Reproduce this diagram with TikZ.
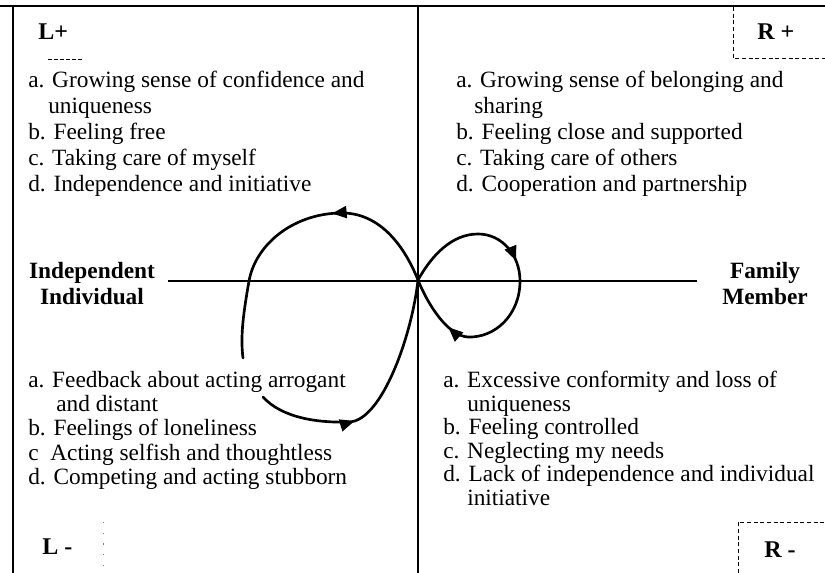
\documentclass[tikz,border=0pt]{standalone}
\usepackage{fontspec}
\setmainfont{Liberation Serif}
\usetikzlibrary{arrows.meta,decorations.markings}
\tikzset{
  frame/.style={line width=1.3pt},
  axis/.style={line width=1pt},
  curve/.style={line width=2pt,line cap=round},
  boxline/.style={line width=0.6pt,dash pattern=on 3pt off 2pt},
  item/.style={anchor=base west,inner sep=0pt,font=\fontsize{17.5}{19}\selectfont},
  tag/.style={anchor=base west,inner sep=0pt,font=\fontsize{18}{20}\selectfont\bfseries},
  pole/.style={align=center,inner sep=0pt,font=\fontsize{17.5}{19.5}\selectfont\bfseries},
  arrowat/.style={postaction={decorate,decoration={markings,mark=at position #1 with {\arrow{Triangle[length=11pt,width=9pt]}}}}}
}
\begin{document}
\begin{tikzpicture}[x=0.75pt,y=-0.75pt]
\useasboundingbox (0,0) rectangle (825,573);
% frame and axes
\draw[frame] (0,6) -- (825,6);
\draw[frame] (13,6) -- (13,573);
\draw[axis] (418,6) -- (418,573);
\coordinate (axL) at (168,281);
\coordinate (axR) at (697,281);
\draw[axis] (axL) -- (axR);
% corner tags
\node[tag] (lp) at (38,40) {L+};
\node[tag] (rp) at (757,40) {R +};
\node[tag] (lm) at (42,554) {L -};
\node[tag] (rm) at (764,557) {R -};
\draw[line width=0.6pt,dash pattern=on 3pt off 1.5pt] (48,59) -- (82,59);
\draw[boxline] (733,7) -- (733,58) -- (825,58);
\draw[boxline] (738,573) -- (738,522) -- (825,522);
\draw[line width=0.6pt,gray,dash pattern=on 1pt off 7pt] (103,522) -- (103,573);
% poles of the axis
\node[pole] (ind) at (92,284) {Independent\\Individual};
\node[pole] (fam) at (765,284) {Family\\Member};
% quadrant lists
\foreach \dx/\t [count=\k] in {0/a. Growing sense of confidence and,20/uniqueness,0/b. Feeling free,0/c. Taking care of myself,0/d. Independence and initiative}
  \node[item] (tl\k) at ({28+\dx},{88+26*(\k-1)}) {\t};
\foreach \dx/\t [count=\k] in {0/a. Growing sense of belonging and,18/sharing,0/b. Feeling close and supported,0/c. Taking care of others,0/d. Cooperation and partnership}
  \node[item] (tr\k) at ({456+\dx},{88+26*(\k-1)}) {\t};
\foreach \dx/\t [count=\k] in {0/a. Feedback about acting arrogant,28/and distant,0/b. Feelings of loneliness,0/c\ \ Acting selfish and thoughtless,0/d. Competing and acting stubborn}
  \node[item] (bl\k) at ({28+\dx},{388+24*(\k-1)}) {\t};
\foreach \dx/\t [count=\k] in {0/a. Excessive conformity and loss of,24/uniqueness,0/b. Feeling controlled,0/c. Neglecting my needs,0/d. Lack of independence and individual,24/initiative}
  \node[item] (br\k) at ({443+\dx},{388+23.5*(\k-1)}) {\t};
% the loop
\coordinate (s) at (263,397);
\coordinate (a) at (349,422);
\coordinate (c) at (418,280);
\coordinate (p) at (478,234);
\coordinate (q) at (520,281);
\coordinate (r) at (468,337);
\coordinate (t) at (342,213);
\coordinate (w) at (249,281);
\coordinate (e) at (243,358);
\draw[curve,arrowat=0.38] (s) .. controls (282,418) and (318,423) .. (a) .. controls (382,421) and (412,335) .. (c);
\draw[curve,arrowat=0.41,arrowat=0.82] (c) .. controls (432,255) and (452,234) .. (p) .. controls (502,234) and (520,255) .. (q) .. controls (520,315) and (495,338) .. (r) .. controls (448,336) and (428,305) .. (c);
\draw[curve,arrowat=0.38] (c) .. controls (408,255) and (385,213) .. (t) .. controls (295,213) and (256,243) .. (w) .. controls (244,310) and (240,335) .. (e);
\end{tikzpicture}
\end{document}
